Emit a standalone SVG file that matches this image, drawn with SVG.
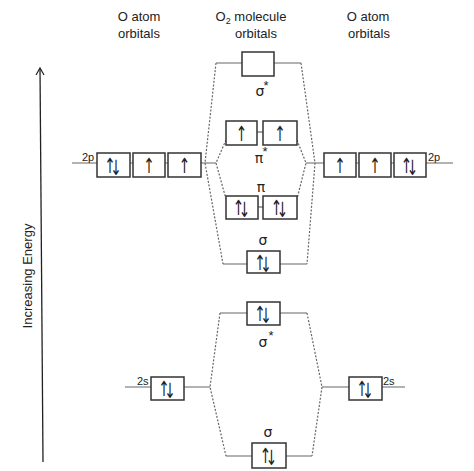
<svg xmlns="http://www.w3.org/2000/svg" width="474" height="471" viewBox="0 0 474 471">
<defs>
<style>
.hdr{font-family:"Liberation Sans",Arial,sans-serif;font-size:13px;fill:#222;text-anchor:middle}
.lbl{font-family:"Liberation Sans",Arial,sans-serif;font-size:11px;fill:#222}
.gr{font-family:"DejaVu Sans","Liberation Sans",sans-serif;font-size:14px;fill:#222;text-anchor:middle}
.ast{font-family:"Liberation Sans",Arial,sans-serif;font-size:13px;fill:#222;text-anchor:middle}
.box{fill:#fff;stroke:#333;stroke-width:1.5}
.ln{stroke:#666;stroke-width:1.2;fill:none}
.dash{stroke:#666;stroke-width:1.2;fill:none;stroke-dasharray:2,1.6}
.e{font-family:"DejaVu Sans",sans-serif;font-size:21px;fill:#222;text-anchor:middle}
.p{text-anchor:start;letter-spacing:-8.4px}
</style>
<marker id="ah" markerWidth="10" markerHeight="10" refX="8" refY="5" orient="auto" markerUnits="userSpaceOnUse">
<path d="M1,1 L8,5 L1,9" fill="none" stroke="#222" stroke-width="1.2"/>
</marker>
</defs>
<rect width="474" height="471" fill="#fff"/>

<g id="headers">
<text class="hdr" x="139" y="21">O atom</text>
<text class="hdr" x="139" y="38">orbitals</text>
<text class="hdr" x="251" y="21">O<tspan font-size="9" dy="3">2</tspan><tspan dy="-3"> molecule</tspan></text>
<text class="hdr" x="256" y="38">orbitals</text>
<text class="hdr" x="368" y="21">O atom</text>
<text class="hdr" x="369" y="38">orbitals</text>
</g>

<g id="energy-axis">
<line x1="43" y1="462" x2="40" y2="68" stroke="#222" stroke-width="1.3" marker-end="url(#ah)"/>
<text class="hdr" transform="translate(32,276) rotate(-90)" x="0" y="0">Increasing Energy</text>
</g>

<g id="connectors">
<path class="ln" d="M216,63H242M274,63H301"/>
<path class="ln" d="M257,132H263"/>
<path class="ln" d="M258,207H263"/>
<path class="ln" d="M223,264H247M280,264H307"/>
<path class="ln" d="M72,163H97M130,163H133M165,163H168M201,163H216"/>
<path class="ln" d="M306,163H324M356,163H359M391,163H394M426,163H453"/>
<path class="ln" d="M220,313H247M280,313H307"/>
<path class="ln" d="M125,387H151M184,387H210"/>
<path class="ln" d="M322,387H349M382,387H405"/>
<path class="ln" d="M226,456H252M286,456H312"/>
<path class="dash" d="M216,63L205,163L223,264"/>
<path class="dash" d="M226,140L216,163L226,199"/>
<path class="dash" d="M301,63L315,163L307,264"/>
<path class="dash" d="M297,140L306,163L297,199"/>
<path class="dash" d="M220,313L210,387L226,456"/>
<path class="dash" d="M307,313L322,387L312,456"/>
</g>

<g id="sigma-star-2p">
<rect class="box" x="242" y="52" width="32" height="24"/>
<text class="gr" x="260" y="96">σ</text><text class="ast" x="266" y="90">*</text>
</g>
<g id="pi-star-2p">
<rect class="box" x="226" y="121" width="31" height="24"/>
<rect class="box" x="263" y="121" width="34" height="24"/>
<text class="e" transform="translate(241.5,141.4) scale(0.65,1)">↑</text>
<text class="e" transform="translate(280,141.4) scale(0.65,1)">↑</text>
<text class="gr" x="259" y="163">π</text><text class="ast" x="265" y="156">*</text>
</g>
<g id="pi-2p">
<rect class="box" x="226" y="196" width="32" height="23"/>
<rect class="box" x="263" y="196" width="34" height="23"/>
<text class="e p" transform="translate(242,215) scale(0.65,1)" x="-14.2">↑<tspan dy="2">↓</tspan></text>
<text class="e p" transform="translate(280,215) scale(0.65,1)" x="-14.2">↑<tspan dy="2">↓</tspan></text>
<text class="gr" x="261" y="192">π</text>
</g>
<g id="sigma-2p">
<rect class="box" x="247" y="251" width="33" height="22"/>
<text class="e p" transform="translate(263.5,269.5) scale(0.65,1)" x="-14.2">↑<tspan dy="2">↓</tspan></text>
<text class="gr" x="263" y="245">σ</text>
</g>
<g id="left-2p">
<text class="lbl" x="82" y="161">2p</text>
<rect class="box" x="97" y="153" width="33" height="24"/>
<rect class="box" x="133" y="153" width="32" height="24"/>
<rect class="box" x="168" y="153" width="33" height="24"/>
<text class="e p" transform="translate(113.5,172.5) scale(0.65,1)" x="-14.2">↑<tspan dy="2">↓</tspan></text>
<text class="e" transform="translate(149,173.4) scale(0.65,1)">↑</text>
<text class="e" transform="translate(184.5,173.4) scale(0.65,1)">↑</text>
</g>
<g id="right-2p">
<rect class="box" x="324" y="153" width="32" height="24"/>
<rect class="box" x="359" y="153" width="32" height="24"/>
<rect class="box" x="394" y="153" width="32" height="24"/>
<text class="e" transform="translate(340,173.4) scale(0.65,1)">↑</text>
<text class="e" transform="translate(375,173.4) scale(0.65,1)">↑</text>
<text class="e p" transform="translate(410,172.5) scale(0.65,1)" x="-14.2">↑<tspan dy="2">↓</tspan></text>
<text class="lbl" x="428" y="161">2p</text>
</g>
<g id="sigma-star-2s">
<rect class="box" x="247" y="302" width="33" height="23"/>
<text class="e p" transform="translate(263.5,321) scale(0.65,1)" x="-14.2">↑<tspan dy="2">↓</tspan></text>
<text class="gr" x="263" y="347">σ</text><text class="ast" x="271" y="340">*</text>
</g>
<g id="left-2s">
<text class="lbl" x="137" y="385">2s</text>
<rect class="box" x="151" y="377" width="33" height="23"/>
<text class="e p" transform="translate(167.5,396) scale(0.65,1)" x="-14.2">↑<tspan dy="2">↓</tspan></text>
</g>
<g id="right-2s">
<rect class="box" x="349" y="377" width="33" height="23"/>
<text class="e p" transform="translate(365.5,396) scale(0.65,1)" x="-14.2">↑<tspan dy="2">↓</tspan></text>
<text class="lbl" x="383" y="385">2s</text>
</g>
<g id="sigma-2s">
<rect class="box" x="252" y="443" width="34" height="25"/>
<text class="e p" transform="translate(269,463) scale(0.65,1)" x="-14.2">↑<tspan dy="2">↓</tspan></text>
<text class="gr" x="268" y="437">σ</text>
</g>
</svg>
